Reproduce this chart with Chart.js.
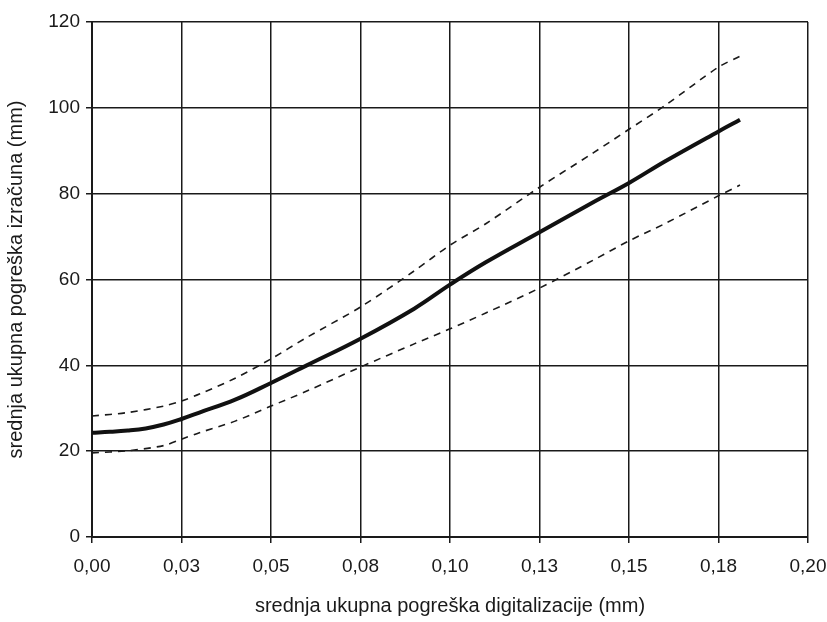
<!DOCTYPE html>
<html>
<head>
<meta charset="utf-8">
<script src="https://cdn.jsdelivr.net/npm/chart.js@4"></script>
<style>
  html, body { margin: 0; padding: 0; background: #fff; }
  #chart { display: block; }
</style>
</head>
<body>
<canvas id="chart" width="827" height="622"></canvas>
<script>
// values
const xTickLabels = ['0,00', '0,03', '0,05', '0,08', '0,10', '0,13', '0,15', '0,18', '0,20'];
const yTickLabels = ['0', '20', '40', '60', '80', '100', '120'];

const meanX = [0, 0.005, 0.01, 0.015, 0.02, 0.025, 0.03, 0.04, 0.05, 0.06, 0.075, 0.09, 0.1, 0.11, 0.125, 0.14, 0.15, 0.16, 0.175, 0.181];
const meanY = [24.3, 24.5, 24.8, 25.3, 26.2, 27.5, 29, 32, 35.9, 40, 46.2, 53.2, 58.8, 64, 71, 78, 82.5, 87.5, 94.5, 97.2];

const bandX = [0, 0.01, 0.02, 0.025, 0.03, 0.04, 0.05, 0.06, 0.075, 0.09, 0.1, 0.11, 0.125, 0.14, 0.15, 0.16, 0.175, 0.181];
const upperY = [28.2, 29, 30.5, 31.7, 33.3, 37, 41.5, 46.5, 53.6, 62, 68, 73, 81.5, 89.5, 95, 100.5, 109.5, 112];
const lowerY = [19.6, 20.1, 21.3, 22.8, 24.3, 27, 30.5, 34, 39.6, 45, 48.5, 52.2, 58, 64.5, 69, 73, 79.5, 82];

const pts = (xs, ys) => xs.map((x, i) => ({ x: x, y: ys[i] }));

const ink = '#1a1a1a';
const tickFont = { family: '"Liberation Sans", Arial, sans-serif', size: 19 };
const titleFont = { family: '"Liberation Sans", Arial, sans-serif', size: 20 };

new Chart(document.getElementById('chart'), {
  type: 'scatter',
  data: {
    datasets: [
      {
        label: 'gornja granica',
        data: pts(bandX, upperY),
        showLine: true,
        borderColor: ink,
        borderWidth: 1.6,
        borderDash: [7, 6],
        pointRadius: 0,
        tension: 0.3
      },
      {
        label: 'srednja vrijednost',
        data: pts(meanX, meanY),
        showLine: true,
        borderColor: '#111',
        borderWidth: 4,
        pointRadius: 0,
        tension: 0.4
      },
      {
        label: 'donja granica',
        data: pts(bandX, lowerY),
        showLine: true,
        borderColor: ink,
        borderWidth: 1.6,
        borderDash: [7, 6],
        pointRadius: 0,
        tension: 0.3
      }
    ]
  },
  options: {
    responsive: false,
    animation: false,
    layout: { padding: { top: 22, right: 0, left: 0, bottom: 0 } },
    plugins: {
      legend: { display: false },
      tooltip: { enabled: false }
    },
    scales: {
      x: {
        type: 'linear',
        min: 0,
        max: 0.2,
        afterFit: s => { s.height = 85; s.paddingRight = 19; s.paddingLeft = 0; },
        ticks: {
          stepSize: 0.025,
          color: ink,
          font: tickFont,
          padding: 12,
          maxRotation: 0,
          callback: (v, i) => xTickLabels[i]
        },
        grid: { color: ink, lineWidth: 1.5, tickLength: 6 },
        border: { color: ink, width: 2 },
        title: {
          display: true,
          text: 'srednja ukupna pogreška digitalizacije (mm)',
          color: ink,
          font: titleFont,
          padding: { top: 6 }
        }
      },
      y: {
        min: 0,
        max: 120,
        afterFit: s => { s.width = 92; },
        ticks: {
          stepSize: 20,
          color: ink,
          font: tickFont,
          padding: 6,
          callback: (v, i) => yTickLabels[i]
        },
        grid: { color: ink, lineWidth: 1.5, tickLength: 6 },
        border: { color: ink, width: 2 },
        title: {
          display: true,
          text: 'srednja ukupna pogreška izračuna (mm)',
          color: ink,
          font: titleFont,
          padding: { bottom: 2 }
        }
      }
    }
  }
});
</script>
</body>
</html>
